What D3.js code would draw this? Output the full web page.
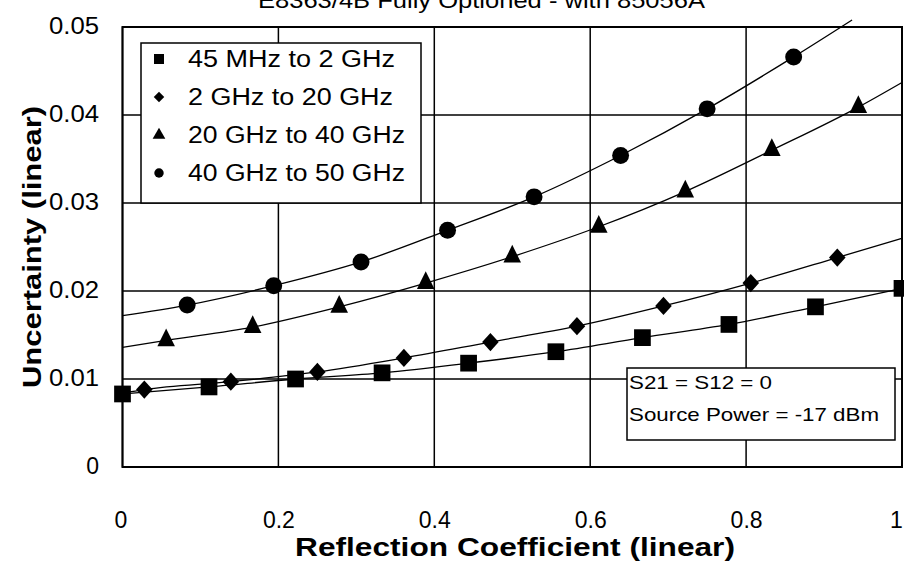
<!DOCTYPE html>
<html><head><meta charset="utf-8">
<script src="https://cdn.jsdelivr.net/npm/d3@7"></script>
<style>body{margin:0;background:#fff}svg{display:block}text{font-family:"Liberation Sans",Arial,sans-serif;fill:#000}</style>
</head><body><svg id="c" width="904" height="563"></svg>
<script>
const titleText = "E8363/4B Fully Optioned - with 85056A";
const xTicks = [0, 0.2, 0.4, 0.6, 0.8, 1];
const yTicks = [0, 0.01, 0.02, 0.03, 0.04, 0.05];
const seriesNames = ["45 MHz to 2 GHz", "2 GHz to 20 GHz", "20 GHz to 40 GHz", "40 GHz to 50 GHz"];
const seriesSymbols = ["square", "diamond", "triangle", "circle"];
// marker positions
const squareX = [0, 0.111, 0.222, 0.333, 0.444, 0.556, 0.667, 0.778, 0.889, 1.0];
const squareY = [0.0083, 0.0091, 0.0100, 0.0107, 0.0118, 0.0131, 0.0147, 0.0162, 0.0182, 0.0203];
const diamondX = [0.028, 0.139, 0.25, 0.361, 0.472, 0.583, 0.694, 0.806, 0.917];
const diamondY = [0.0088, 0.0097, 0.0108, 0.0124, 0.0142, 0.0160, 0.0183, 0.0209, 0.0238];
const triangleX = [0.056, 0.167, 0.278, 0.389, 0.5, 0.611, 0.722, 0.833, 0.944];
const triangleY = [0.0144, 0.0159, 0.0182, 0.0209, 0.0239, 0.0273, 0.0313, 0.0360, 0.0409];
const circleX = [0.083, 0.194, 0.306, 0.417, 0.528, 0.639, 0.75, 0.861];
const circleY = [0.0184, 0.0206, 0.0233, 0.0269, 0.0307, 0.0354, 0.0407, 0.0466];
// curve end points (where the fitted lines start and stop)
const lineStartX = [0, 0, 0, 0];
const lineStartY = [0.0083, 0.0084, 0.0136, 0.0172];
const lineEndX = [1.0, 1.0, 1.0, 0.936];
const lineEndY = [0.0203, 0.0260, 0.0437, 0.0508];
const noteLines = ["S21 = S12 = 0", "Source Power = -17 dBm"];
const xTitle = "Reflection Coefficient (linear)";
const yTitle = "Uncertainty (linear)";

const svg = d3.select("#c");
const L = 122.5, R = 902, T = 27, B = 467;
const x = d3.scaleLinear().domain([0, 1]).range([L, R]);
const y = d3.scaleLinear().domain([0, 0.05]).range([B, T]);

// title (partly cut off at top)
svg.append("text").attr("x", 258).attr("y", 8).attr("font-size", 22)
  .attr("textLength", 447).attr("lengthAdjust", "spacingAndGlyphs").text(titleText);

// grid
const g = svg.append("g");
g.selectAll(".gx").data(xTicks).join("line")
  .attr("x1", d => x(d)).attr("x2", d => x(d)).attr("y1", T).attr("y2", B)
  .attr("stroke", "#000").attr("stroke-width", 1.5);
g.selectAll(".gy").data(yTicks).join("line")
  .attr("y1", d => y(d)).attr("y2", d => y(d)).attr("x1", L).attr("x2", R)
  .attr("stroke", "#000").attr("stroke-width", 1.5);
g.append("rect").attr("x", L).attr("y", T).attr("width", R - L).attr("height", B - T)
  .attr("fill", "none").attr("stroke", "#000").attr("stroke-width", 2);

// axes labels via d3 axes (no lines)
const ax = svg.append("g").attr("transform", `translate(0,${B})`)
  .call(d3.axisBottom(x).tickValues(xTicks).tickFormat(d3.format("~g")).tickSize(0).tickPadding(0));
ax.select(".domain").remove();
ax.selectAll("text").attr("font-size", 23).attr("font-family", "Liberation Sans, Arial, sans-serif")
  .attr("dy", null).attr("y", 61);
ax.selectAll(".tick").filter(d => d === 0).select("text").attr("dx", -2);
ax.selectAll(".tick").filter(d => d === 1).select("text").attr("dx", -6);

const ay = svg.append("g").attr("transform", `translate(99,0)`)
  .call(d3.axisLeft(y).tickValues(yTicks).tickFormat(d3.format("~g")).tickSize(0).tickPadding(0));
ay.select(".domain").remove();
ay.selectAll("text").attr("font-size", 23).attr("font-family", "Liberation Sans, Arial, sans-serif")
  .attr("dy", "0.32em").attr("y", -1).attr("textLength", d => d === 0 ? null : 50)
  .attr("lengthAdjust", "spacingAndGlyphs");

// axis titles
svg.append("text").attr("x", 515).attr("y", 556).attr("text-anchor", "middle")
  .attr("font-size", 25).attr("font-weight", "bold")
  .attr("textLength", 440).attr("lengthAdjust", "spacingAndGlyphs").text(xTitle);
svg.append("text").attr("transform", "translate(41,247) rotate(-90)").attr("text-anchor", "middle")
  .attr("font-size", 25).attr("font-weight", "bold")
  .attr("textLength", 282).attr("lengthAdjust", "spacingAndGlyphs").text(yTitle);

// series
const seriesX = [squareX, diamondX, triangleX, circleX];
const seriesY = [squareY, diamondY, triangleY, circleY];
const symType = {square: d3.symbolSquare, diamond: d3.symbolDiamond2, triangle: d3.symbolTriangle, circle: d3.symbolCircle};
const symSize = {square: 280, diamond: 175, triangle: 165, circle: 225};
const line = d3.line().x(d => x(d[0])).y(d => y(d[1])).curve(d3.curveMonotoneX);

seriesX.forEach((xs, i) => {
  let pts = xs.map((v, j) => [v, seriesY[i][j]]);
  if (pts[0][0] > lineStartX[i]) pts.unshift([lineStartX[i], lineStartY[i]]);
  if (pts[pts.length - 1][0] < lineEndX[i]) pts.push([lineEndX[i], lineEndY[i]]);
  svg.append("path").attr("d", line(pts)).attr("fill", "none").attr("stroke", "#000").attr("stroke-width", 1.3);
});
seriesX.forEach((xs, i) => {
  const s = seriesSymbols[i];
  svg.append("g").selectAll("path").data(xs.map((v, j) => [v, seriesY[i][j]])).join("path")
    .attr("transform", d => `translate(${x(d[0])},${y(d[1])})` + (s === "diamond" ? " scale(1,1.1)" : (s === "triangle" ? " scale(0.9,1.05)" : "")))
    .attr("d", d3.symbol().type(symType[s]).size(symSize[s]))
    .attr("fill", "#000");
});

// legend
const lg = svg.append("g");
lg.append("rect").attr("x", 141).attr("y", 43).attr("width", 280).attr("height", 160)
  .attr("fill", "#fff").attr("stroke", "#000").attr("stroke-width", 1.5);
const legW = [207, 205, 217, 217];
seriesNames.forEach((n, i) => {
  const cy = 59 + i * 38;
  const s = seriesSymbols[i];
  lg.append("path").attr("transform", `translate(159,${cy})`)
    .attr("d", d3.symbol().type(symType[s]).size(s === "square" ? 100 : 70)).attr("fill", "#000");
  lg.append("text").attr("x", 188).attr("y", cy + 8).attr("font-size", 23)
    .attr("textLength", legW[i]).attr("lengthAdjust", "spacingAndGlyphs").text(n);
});

// note box
const nb = svg.append("g");
nb.append("rect").attr("x", 627).attr("y", 368).attr("width", 268).attr("height", 72)
  .attr("fill", "#fff").attr("stroke", "#000").attr("stroke-width", 1.5);
nb.append("text").attr("x", 629).attr("y", 389).attr("font-size", 19)
  .attr("textLength", 143).attr("lengthAdjust", "spacingAndGlyphs").text(noteLines[0]);
nb.append("text").attr("x", 629).attr("y", 421).attr("font-size", 19)
  .attr("textLength", 250).attr("lengthAdjust", "spacingAndGlyphs").text(noteLines[1]);
</script></body></html>
